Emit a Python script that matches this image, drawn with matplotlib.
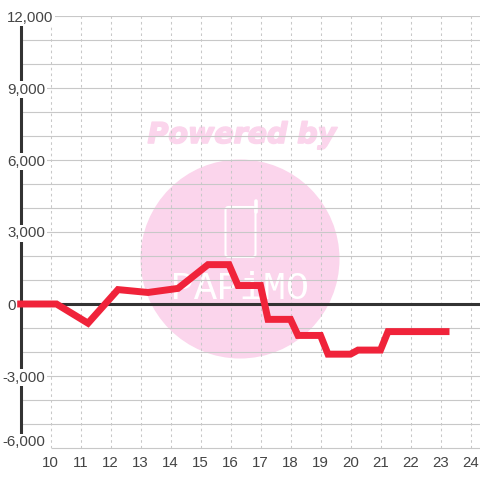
import matplotlib
matplotlib.use('Agg')
import matplotlib.pyplot as plt
import matplotlib.patheffects as pe
from matplotlib.patches import Circle, FancyBboxPatch
from matplotlib.ticker import FixedLocator, NullFormatter

# hours on the x axis, value on the y axis
hours = [8.89, 10.2, 11.25, 12.25, 13.25, 14.25, 15.25, 15.95, 16.25, 17.0, 17.25,
         18.0, 18.25, 19.0, 19.25, 20.0, 20.25, 21.0, 21.25, 23.3]
values = [0, 0, -800, 600, 480, 650, 1640, 1640, 770, 770, -640,
          -640, -1310, -1310, -2090, -2090, -1920, -1920, -1150, -1150]
x_ticks = list(range(10, 25))
y_labels = [-6000, -3000, 0, 3000, 6000, 9000, 12000]
y_grid = list(range(-5000, 12001, 1000))

plt.rcParams['font.family'] = ['Liberation Sans', 'DejaVu Sans']

fig = plt.figure(figsize=(4.8, 4.8), dpi=100)

# watermark layer, in pixels
bg = fig.add_axes([0, 0, 1, 1], zorder=0)
bg.set_xlim(0, 480)
bg.set_ylim(480, 0)
bg.axis('off')
pink = '#fbd5ec'
bg.add_patch(Circle((240, 259), 99.5, color=pink, lw=0))
bg.text(242, 135, 'Powered by', color=pink, fontsize=20.5, fontweight='bold',
        fontstyle='italic', family=['DejaVu Sans'], ha='center', va='center',
        path_effects=[pe.withStroke(linewidth=1.2, foreground=pink)])
bg.add_patch(FancyBboxPatch((225.5, 207), 30, 50, boxstyle='round,pad=0,rounding_size=3',
                            fc='none', ec='white', lw=1.5))
bg.plot([255.5, 255.5], [201, 212], color='white', lw=2.6, solid_capstyle='round')
bg.text(240, 289, 'PAPiMO', color='white', fontsize=27.5, family=['Liberation Mono'],
        ha='center', va='center')

ax = fig.add_axes([20.5 / 480, (480 - 448) / 480, 459.5 / 480, 432 / 480], zorder=1)
ax.patch.set_alpha(0)
ax.set_xlim(9, 9 + 459.5 / 30)
ax.set_ylim(-6000, 12000)

for s in ['top', 'right', 'bottom']:
    ax.spines[s].set_visible(False)
ax.spines['left'].set_linewidth(2.2)
ax.spines['left'].set_color('#333333')

ax.yaxis.set_major_locator(FixedLocator(y_grid))
ax.yaxis.set_major_formatter(NullFormatter())
ax.xaxis.set_major_locator(FixedLocator(x_ticks))
ax.grid(axis='y', color='#c8c8c8', lw=0.8, zorder=1)
ax.grid(axis='x', color='#c8c8c8', lw=0.75, ls=(0, (2.5, 3)), zorder=1)
ax.hlines(-6000, 10, ax.get_xlim()[1], color='#c8c8c8', lw=0.8, clip_on=False, zorder=1)
ax.tick_params(length=0, labelsize=10.8, labelcolor='#444444')
ax.tick_params(axis='x', pad=6)

for v in y_labels:
    left = 7 if v >= 0 else 2.5
    shift = 7 if v == -6000 else 0
    ax.annotate(format(v, ','), xy=(0, v), xycoords=ax.get_yaxis_transform(),
                xytext=(left - 20.5, shift), textcoords='offset pixels',
                ha='left', va='center_baseline', fontsize=10.8, color='#444444',
                annotation_clip=False, zorder=4,
                bbox=dict(fc='white', ec='none', pad=1.2))

ax.axhline(0, color='#333333', lw=2.2, zorder=2)
ax.plot(hours, values, color='#f0233a', lw=5, zorder=5,
        solid_joinstyle='miter', solid_capstyle='butt', clip_on=False)

fig.savefig('out.png', dpi=100)
